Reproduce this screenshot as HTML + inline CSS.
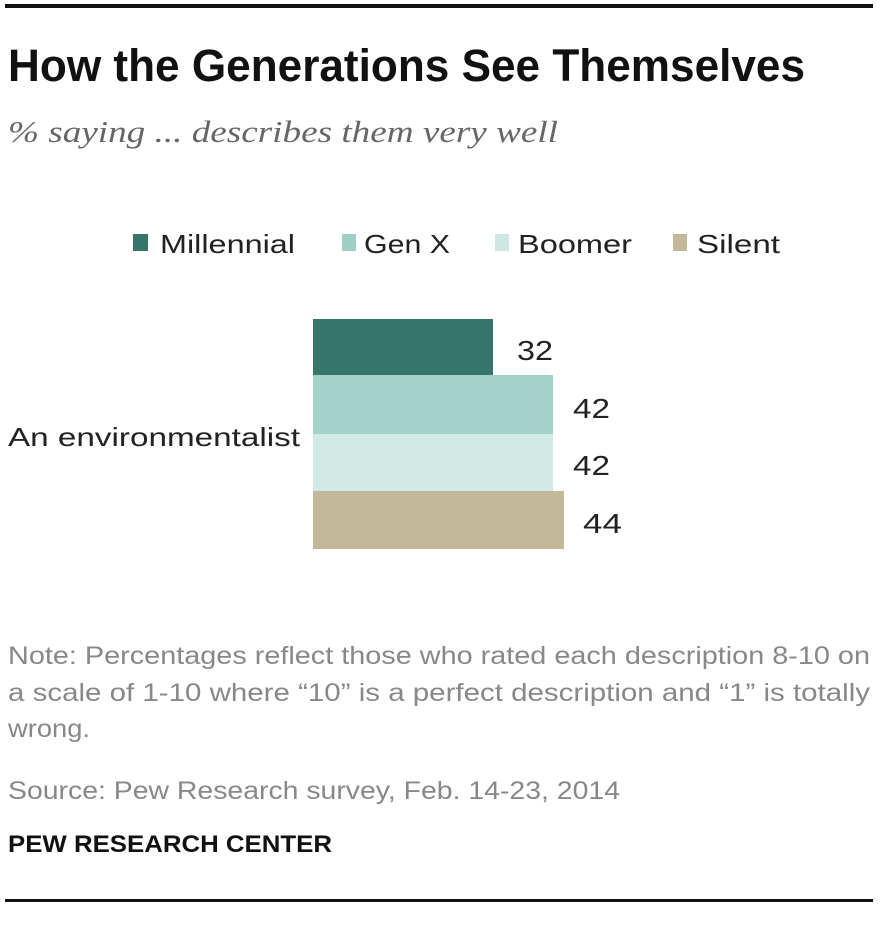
<!DOCTYPE html>
<html><head><meta charset="utf-8"><style>
html,body{margin:0;padding:0;background:#fff;}
svg{display:block;}
</style></head><body>
<svg width="880" height="945" viewBox="0 0 880 945" xmlns="http://www.w3.org/2000/svg">
<rect width="880" height="945" fill="#fff"/>
<rect x="5" y="4" width="868" height="4" fill="#111"/>
<text x="8" y="81" font-family="Liberation Sans Narrow, Liberation Sans, sans-serif" font-weight="bold" font-size="45" fill="#111" textLength="797" lengthAdjust="spacingAndGlyphs">How the Generations See Themselves</text>
<text x="8" y="142" font-family="Liberation Serif, serif" font-style="italic" font-size="31" fill="#666" textLength="550" lengthAdjust="spacingAndGlyphs">% saying ... describes them very well</text>

<g font-family="Liberation Sans, sans-serif" font-size="26" fill="#222">
<rect x="133" y="234" width="15" height="17" fill="#35756a"/>
<text x="160" y="253" textLength="135" lengthAdjust="spacingAndGlyphs">Millennial</text>
<rect x="342" y="234" width="14" height="17" fill="#9dd0c5"/>
<text x="364" y="253" textLength="86" lengthAdjust="spacingAndGlyphs">Gen X</text>
<rect x="495" y="234" width="14" height="17" fill="#cfe7e3"/>
<text x="518" y="253" textLength="114" lengthAdjust="spacingAndGlyphs">Boomer</text>
<rect x="673" y="234" width="14" height="17" fill="#c3b99a"/>
<text x="697" y="253" textLength="83" lengthAdjust="spacingAndGlyphs">Silent</text>

<text x="8" y="446" textLength="292" lengthAdjust="spacingAndGlyphs">An environmentalist</text>

<rect x="313" y="319" width="180" height="56" fill="#35756a"/>
<rect x="313" y="375" width="240" height="59" fill="#a3d3c8"/>
<rect x="313" y="434" width="240" height="57" fill="#d2eae6"/>
<rect x="313" y="491" width="251" height="58" fill="#c3b99a"/>
<g font-size="28">
<text x="517" y="360" textLength="36" lengthAdjust="spacingAndGlyphs">32</text>
<text x="573" y="418" textLength="37" lengthAdjust="spacingAndGlyphs">42</text>
<text x="573" y="475" textLength="37" lengthAdjust="spacingAndGlyphs">42</text>
<text x="583" y="533" textLength="39" lengthAdjust="spacingAndGlyphs">44</text>
</g>
</g>

<g font-family="Liberation Sans Narrow, Liberation Sans, sans-serif" font-size="25" fill="#888">
<text x="8" y="664" textLength="862" lengthAdjust="spacingAndGlyphs">Note: Percentages reflect those who rated each description 8-10 on</text>
<text x="8" y="701" textLength="862" lengthAdjust="spacingAndGlyphs">a scale of 1-10 where “10” is a perfect description and “1” is totally</text>
<text x="8" y="737" textLength="82" lengthAdjust="spacingAndGlyphs">wrong.</text>
<text x="8" y="799" textLength="612" lengthAdjust="spacingAndGlyphs">Source: Pew Research survey, Feb. 14-23, 2014</text>
</g>
<text x="8" y="852" font-family="Liberation Sans Narrow, Liberation Sans, sans-serif" font-weight="bold" font-size="24" fill="#111" textLength="324" lengthAdjust="spacingAndGlyphs">PEW RESEARCH CENTER</text>
<rect x="5" y="899" width="868" height="3" fill="#111"/>
</svg>
</body></html>
